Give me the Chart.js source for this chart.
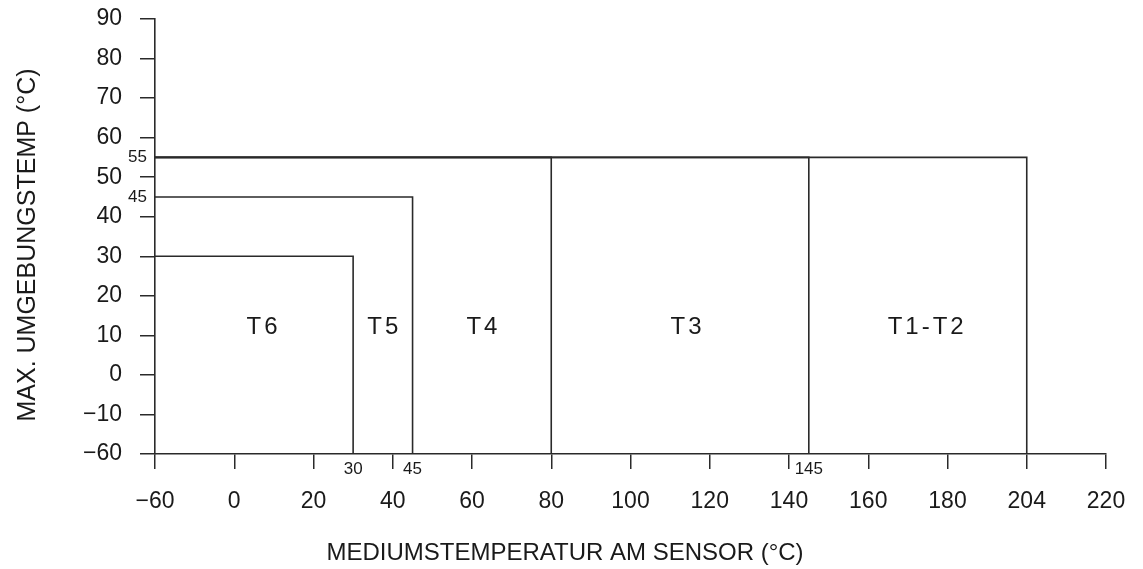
<!DOCTYPE html>
<html>
<head>
<meta charset="utf-8">
<script src="https://cdn.jsdelivr.net/npm/chart.js@4.4.1/dist/chart.umd.min.js"></script>
<style>
    html, body { margin: 0; padding: 0; background: #fff; }
    #wrap { width: 1143px; height: 569px; }
</style>
</head>
<body>
<div id="wrap"><canvas id="chart"></canvas></div>
<script>
// Temperaturklassen: max. Mediumstemperatur und max. Umgebungstemperatur
const zones = ['T6', 'T5', 'T4', 'T3', 'T1-T2'];
const zoneMediumMax = [30, 45, 80, 145, 204];
const zoneAmbientMax = [30, 45, 55, 55, 55];
// where the class names sit
const zoneLabelX = [7, 37.5, 62.5, 114, 174.5];
const zoneLabelY = 12;

const xTickLabels = [-60, 0, 20, 40, 60, 80, 100, 120, 140, 160, 180, 204, 220];
const yTickLabels = [-60, -10, 0, 10, 20, 30, 40, 50, 60, 70, 80, 90];
const xMarks = [30, 45, 145];
const yMarks = [55, 45];

const FONT = '"Liberation Sans", Arial, sans-serif';
const INK = '#1a1a1a';

// the axes are broken: -60 sits one step before 0 / -10, 204 sits on the 200 step
function xPos(v) {
    if (v === -60) return -20;
    if (v === 204) return 200;
    return v;
}

function yPos(v) {
    return v === -60 ? -20 : v;
}

function fmt(v) {
    return String(v).replace('-', '\u2212');
}

let datasets = zones.map(function (z, i) {
    return {
        label: z,
        data: [
            {x: xPos(-60), y: yPos(zoneAmbientMax[i])},
            {x: xPos(zoneMediumMax[i]), y: yPos(zoneAmbientMax[i])},
            {x: xPos(zoneMediumMax[i]), y: yPos(-60)}
        ],
        showLine: true,
        borderColor: '#2a2a2a',
        borderWidth: 1.6,
        pointRadius: 0,
        fill: false,
        tension: 0
    };
});

const textPlugin = {
    id: 'textPlugin',
    afterDraw(chart) {
        let ctx = chart.ctx;
        let sx = chart.scales.x;
        let sy = chart.scales.y;

        ctx.save();
        ctx.fillStyle = INK;

        // class names
        ctx.font = '24px ' + FONT;
        ctx.letterSpacing = '3px';
        ctx.textAlign = 'center';
        ctx.textBaseline = 'middle';
        zones.forEach(function (z, i) {
            ctx.fillText(z, sx.getPixelForValue(zoneLabelX[i]) + 1.5, sy.getPixelForValue(zoneLabelY));
        });
        ctx.letterSpacing = '0px';

        // small limit values on the axes
        ctx.font = '17px ' + FONT;
        ctx.textBaseline = 'top';
        xMarks.forEach(function (v) {
            ctx.fillText(fmt(v), sx.getPixelForValue(xPos(v)), sy.bottom + 7);
        });
        ctx.textAlign = 'right';
        ctx.textBaseline = 'middle';
        yMarks.forEach(function (v) {
            ctx.fillText(fmt(v), sx.left - 8, sy.getPixelForValue(yPos(v)));
        });

        // axis titles
        ctx.font = '24px ' + FONT;
        ctx.textAlign = 'center';
        ctx.fillText('MEDIUMSTEMPERATUR AM SENSOR (\u00B0C)', 565, 553);

        ctx.font = '25px ' + FONT;
        ctx.translate(28, 245);
        ctx.rotate(-Math.PI / 2);
        ctx.fillText('MAX. UMGEBUNGSTEMP (\u00B0C)', 0, 0);
        ctx.restore();
    }
};

new Chart(document.getElementById('chart').getContext('2d'), {
    type: 'scatter',
    data: {datasets: datasets},
    plugins: [textPlugin],
    options: {
        responsive: true,
        maintainAspectRatio: false,
        animation: false,
        devicePixelRatio: 1,
        layout: {
            padding: {top: 19, right: 37, left: 0, bottom: 0}
        },
        plugins: {
            legend: {display: false},
            tooltip: {enabled: false}
        },
        scales: {
            x: {
                type: 'linear',
                min: -20,
                max: 220,
                afterBuildTicks: function (scale) {
                    scale.ticks = xTickLabels.map(v => ({value: xPos(v)}));
                },
                afterFit: function (scale) {
                    scale.height = 115;
                    scale.paddingLeft = 0;
                    scale.paddingRight = 0;
                },
                ticks: {
                    callback: (value, index) => fmt(xTickLabels[index]),
                    font: {family: FONT, size: 23},
                    color: INK,
                    padding: 19,
                    maxRotation: 0,
                    autoSkip: false
                },
                grid: {
                    drawOnChartArea: false,
                    drawTicks: true,
                    tickLength: 15,
                    color: '#2a2a2a',
                    lineWidth: 1.5
                },
                border: {display: true, color: '#2a2a2a', width: 1.6}
            },
            y: {
                type: 'linear',
                min: -20,
                max: 90,
                afterBuildTicks: function (scale) {
                    scale.ticks = yTickLabels.map(v => ({value: yPos(v)}));
                },
                afterFit: function (scale) {
                    scale.width = 155;
                    scale.paddingTop = 0;
                    scale.paddingBottom = 0;
                },
                ticks: {
                    callback: (value, index) => fmt(yTickLabels[index]),
                    font: {family: FONT, size: 23},
                    color: INK,
                    padding: 18,
                    autoSkip: false
                },
                grid: {
                    drawOnChartArea: false,
                    drawTicks: true,
                    tickLength: 15,
                    color: '#2a2a2a',
                    lineWidth: 1.5
                },
                border: {display: true, color: '#2a2a2a', width: 1.6}
            }
        }
    }
});
</script>
</body>
</html>
